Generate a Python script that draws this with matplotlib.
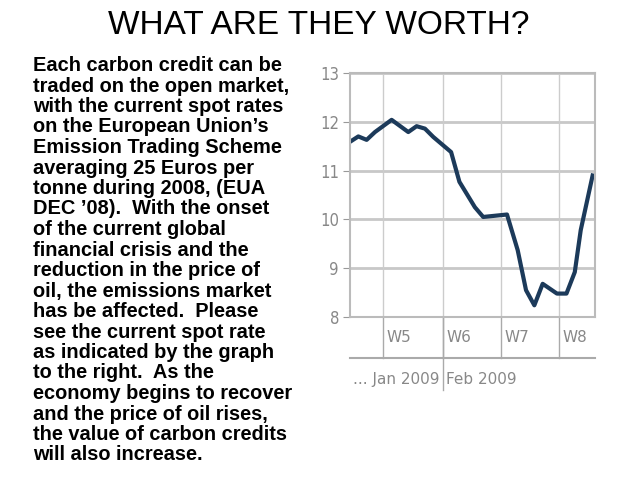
import matplotlib
matplotlib.use("Agg")
import matplotlib.pyplot as plt

# data (x in trading days from left edge)
days = [0, 0.7, 1.4, 2.1, 3.5, 4.9, 5.6, 6.3, 7.0, 8.5, 9.2, 10.5, 11.2, 13.2, 14.1, 14.8, 15.5, 16.2, 17.4, 18.2, 18.9, 19.4, 20.4]
price = [11.59, 11.70, 11.63, 11.79, 12.04, 11.79, 11.91, 11.86, 11.69, 11.38, 10.77, 10.25, 10.05, 10.10, 9.37, 8.55, 8.24, 8.68, 8.48, 8.48, 8.92, 9.78, 10.9]
week_pos = [2.8, 7.8, 12.7, 17.6]
week_labels = ["W5", "W6", "W7", "W8"]
yticks = [8, 9, 10, 11, 12, 13]
month_labels = ["... Jan 2009", "Feb 2009"]

body = ("Each carbon credit can be\ntraded on the open market,\nwith the current spot rates\n"
        "on the European Union\u2019s\nEmission Trading Scheme\naveraging 25 Euros per\n"
        "tonne during 2008, (EUA\nDEC \u201908).  With the onset\nof the current global\n"
        "financial crisis and the\nreduction in the price of\noil, the emissions market\n"
        "has be affected.  Please\nsee the current spot rate\nas indicated by the graph\n"
        "to the right.  As the\neconomy begins to recover\nand the price of oil rises,\n"
        "the value of carbon credits\nwill also increase.")

W, H = 638, 479
fig = plt.figure(figsize=(W/100, H/100), dpi=100)
fig.text(0.5, 1-26/H, "WHAT ARE THEY WORTH?", ha="center", va="center", fontsize=24, family="Liberation Sans")
fig.text(33/W, 1-56/H, body, ha="left", va="top", fontsize=14.4, fontweight="bold",
         family="Liberation Sans", linespacing=1.1)

xmax = 20.6
ax = fig.add_axes([350/W, 1-317/H, 245/W, 244/H])
ax.plot(days, price, color="#1c3a5a", lw=3, solid_joinstyle="round")
ax.set_xlim(0, xmax)
ax.set_ylim(8, 13)
ax.set_yticks(yticks)
ax.set_yticklabels([str(v) for v in yticks], color="#888888", fontsize=12, family="DejaVu Sans", fontstretch="condensed")
ax.set_xticks([])
for v in yticks:
    ax.axhline(v, color="#c8c8c8", lw=2, zorder=0)
for p, lab in zip(week_pos, week_labels):
    ax.axvline(p, color="#cccccc", lw=1, zorder=0)
    ax.plot([p, p], [8, 7.16], color="#aaaaaa", lw=1, clip_on=False)
    ax.text(p + 0.3, 7.57, lab, color="#888888", fontsize=11, ha="left", va="center")
for s in ["left", "top", "right", "bottom"]:
    ax.spines[s].set_color("#bbbbbb")
    ax.spines[s].set_linewidth(1.5)
ax.tick_params(axis="y", length=5, color="#999999", pad=3)
ax.plot([0, xmax], [7.16, 7.16], color="#aaaaaa", lw=1.5, clip_on=False)
ax.plot([week_pos[1]]*2, [8, 6.5], color="#aaaaaa", lw=1, clip_on=False)
ax.text(week_pos[1] - 0.3, 6.72, month_labels[0], color="#888888", fontsize=11, ha="right", va="center")
ax.text(week_pos[1] + 0.3, 6.72, month_labels[1], color="#888888", fontsize=11, ha="left", va="center")

fig.savefig("out.png", dpi=100)
